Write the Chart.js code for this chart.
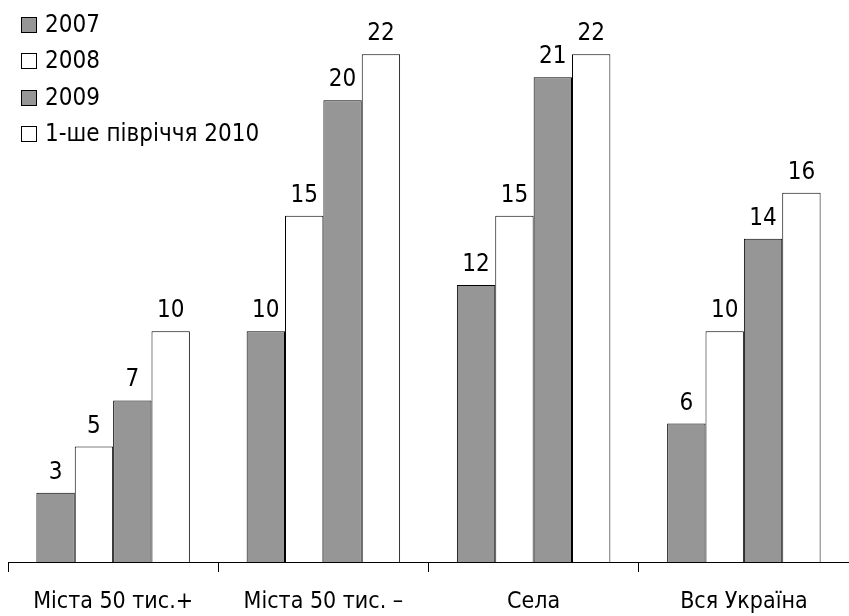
<!DOCTYPE html>
<html>
<head>
<meta charset="utf-8">
<script src="https://cdn.jsdelivr.net/npm/chart.js@4/dist/chart.umd.min.js"></script>
<style>
  html, body { margin: 0; padding: 0; background: #fff; }
  #wrap { width: 849px; height: 616px; position: relative; }
</style>
</head>
<body>
<div id="wrap"><canvas id="c" width="849" height="616"></canvas></div>
<script>
const categories = ['Міста 50 тис.+', 'Міста 50 тис. –', 'Села', 'Вся Україна'];
const seriesNames = ['2007', '2008', '2009', '1-ше півріччя 2010'];
const values2007 = [3, 10, 12, 6];
const values2008 = [5, 15, 15, 10];
const values2009 = [7, 20, 21, 14];
const valuesH1_2010 = [10, 22, 22, 16];

const GRAY = '#969696';
const WHITE = '#ffffff';
const FONT = '"DejaVu Sans Condensed", "DejaVu Sans", sans-serif';

const fills = [GRAY, WHITE, GRAY, WHITE];
const seriesValues = [values2007, values2008, values2009, valuesH1_2010];

// Numbers above each bar
const valueLabels = {
  id: 'valueLabels',
  afterDatasetsDraw(chart) {
    const ctx = chart.ctx;
    ctx.save();
    ctx.font = '24px ' + FONT;
    ctx.fillStyle = '#000';
    ctx.textAlign = 'center';
    ctx.textBaseline = 'alphabetic';
    chart.data.datasets.forEach((ds, i) => {
      chart.getDatasetMeta(i).data.forEach((bar, j) => {
        ctx.fillText(String(ds.data[j]), bar.x, bar.y - 14);
      });
    });
    ctx.restore();
  }
};

// Legend stacked in the top-left corner
const cornerLegend = {
  id: 'cornerLegend',
  afterDraw(chart) {
    const ctx = chart.ctx;
    ctx.save();
    ctx.font = '24px ' + FONT;
    ctx.textAlign = 'left';
    ctx.textBaseline = 'middle';
    chart.data.datasets.forEach((ds, i) => {
      const cy = Math.round(24.5 + i * 36.6);
      ctx.fillStyle = ds.backgroundColor;
      ctx.fillRect(21.5, cy - 7.5, 15, 15);
      ctx.strokeStyle = '#000';
      ctx.lineWidth = 1;
      ctx.strokeRect(21.5, cy - 7.5, 15, 15);
      ctx.fillStyle = '#000';
      ctx.fillText(ds.label, 45, cy + 1);
    });
    ctx.restore();
  }
};

new Chart(document.getElementById('c'), {
  type: 'bar',
  data: {
    labels: categories,
    datasets: seriesNames.map((name, i) => ({
      label: name,
      data: seriesValues[i],
      backgroundColor: fills[i],
      borderColor: '#000',
      borderWidth: 1,
      borderSkipped: 'bottom',
      categoryPercentage: 0.73,
      barPercentage: 1.0
    }))
  },
  options: {
    responsive: false,
    animation: false,
    devicePixelRatio: 1,
    layout: { padding: { left: 8, right: 0, top: 8, bottom: 0 } },
    plugins: { legend: { display: false }, tooltip: { enabled: false } },
    scales: {
      x: {
        border: { display: true, color: '#000', width: 1 },
        grid: { offset: true, drawOnChartArea: false, drawTicks: true, tickLength: 10, color: '#000' },
        ticks: { color: '#000', font: { family: FONT, size: 23 }, padding: 16, maxRotation: 0, autoSkip: false },
        afterFit(scale) { scale.height = 54; }
      },
      y: {
        display: false,
        min: 0,
        max: 24
      }
    }
  },
  plugins: [valueLabels, cornerLegend]
});
</script>
</body>
</html>
